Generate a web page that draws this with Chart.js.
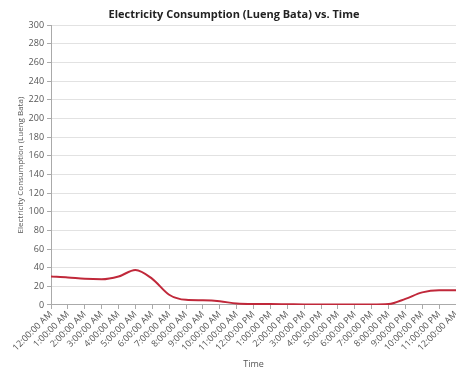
<!DOCTYPE html>
<html>
<head>
<meta charset="utf-8">
<script src="https://cdn.jsdelivr.net/npm/chart.js@4"></script>
<style>
  html, body { margin: 0; padding: 0; background: #fff; }
  #wrap { width: 456px; height: 376px; }
</style>
</head>
<body>
<div id="wrap"><canvas id="grafico"></canvas></div>
<script>
// dados do grafico
var horas = ['12:00:00 AM', '1:00:00 AM', '2:00:00 AM', '3:00:00 AM', '4:00:00 AM', '5:00:00 AM',
  '6:00:00 AM', '7:00:00 AM', '8:00:00 AM', '9:00:00 AM', '10:00:00 AM', '11:00:00 AM',
  '12:00:00 PM', '1:00:00 PM', '2:00:00 PM', '3:00:00 PM', '4:00:00 PM', '5:00:00 PM',
  '6:00:00 PM', '7:00:00 PM', '8:00:00 PM', '9:00:00 PM', '10:00:00 PM', '11:00:00 PM', '12:00:00 AM'];
var consumo = [30.5, 29.5, 28, 27.5, 30.5, 37.5, 28, 11, 5.5, 5, 4, 1.5,
  1, 1, 0.8, 0.6, 0.5, 0.5, 0.5, 0.5, 1, 6.5, 13.5, 15.7, 15.7];

var cinza = '#555';

new Chart(document.getElementById('grafico'), {
  type: 'line',
  data: {
    labels: horas,
    datasets: [{
      label: 'Consumo',
      data: consumo,
      borderColor: '#c0283a',
      borderWidth: 2,
      pointRadius: 0,
      tension: 0.4,
      cubicInterpolationMode: 'monotone',
      fill: false
    }]
  },
  options: {
    responsive: true,
    maintainAspectRatio: false,
    animation: false,
    layout: { padding: { left: 12, right: 0, top: 2, bottom: 2 } },
    plugins: {
      legend: { display: false },
      tooltip: { enabled: false },
      title: {
        display: true,
        text: 'Electricity Consumption (Lueng Bata) vs. Time',
        color: '#222',
        font: { family: 'Open Sans', size: 11, weight: 'bold' },
        padding: { top: 6, bottom: 4 }
      }
    },
    scales: {
      x: {
        afterFit: function(s) { s.paddingRight = 0; },
        grid: { display: true, drawOnChartArea: false, tickLength: 4, tickColor: '#aaa' },
        border: { color: '#aaa' },
        ticks: {
          color: cinza,
          font: { family: 'Open Sans', size: 9 },
          maxRotation: 45, minRotation: 45,
          autoSkip: false,
          padding: 0
        },
        title: {
          display: true,
          text: 'Time',
          color: cinza,
          font: { family: 'Open Sans', size: 9 },
          padding: { top: 6 }
        }
      },
      y: {
        min: 0, max: 300,
        grid: {
          color: function(ctx) { return ctx.tick.value % 20 === 0 ? '#e2e2e2' : 'rgba(0,0,0,0)'; },
          tickColor: '#aaa',
          tickLength: 4
        },
        border: { color: '#aaa' },
        ticks: {
          stepSize: 10,
          color: cinza,
          font: { family: 'Open Sans', size: 9 },
          padding: 3,
          callback: function(v) { return v % 20 === 0 ? v : ''; }
        },
        title: {
          display: true,
          text: 'Electricity Consumption (Lueng Bata)',
          color: cinza,
          font: { family: 'Open Sans', size: 8 },
          padding: { bottom: 0 }
        }
      }
    }
  }
});
</script>
</body>
</html>
